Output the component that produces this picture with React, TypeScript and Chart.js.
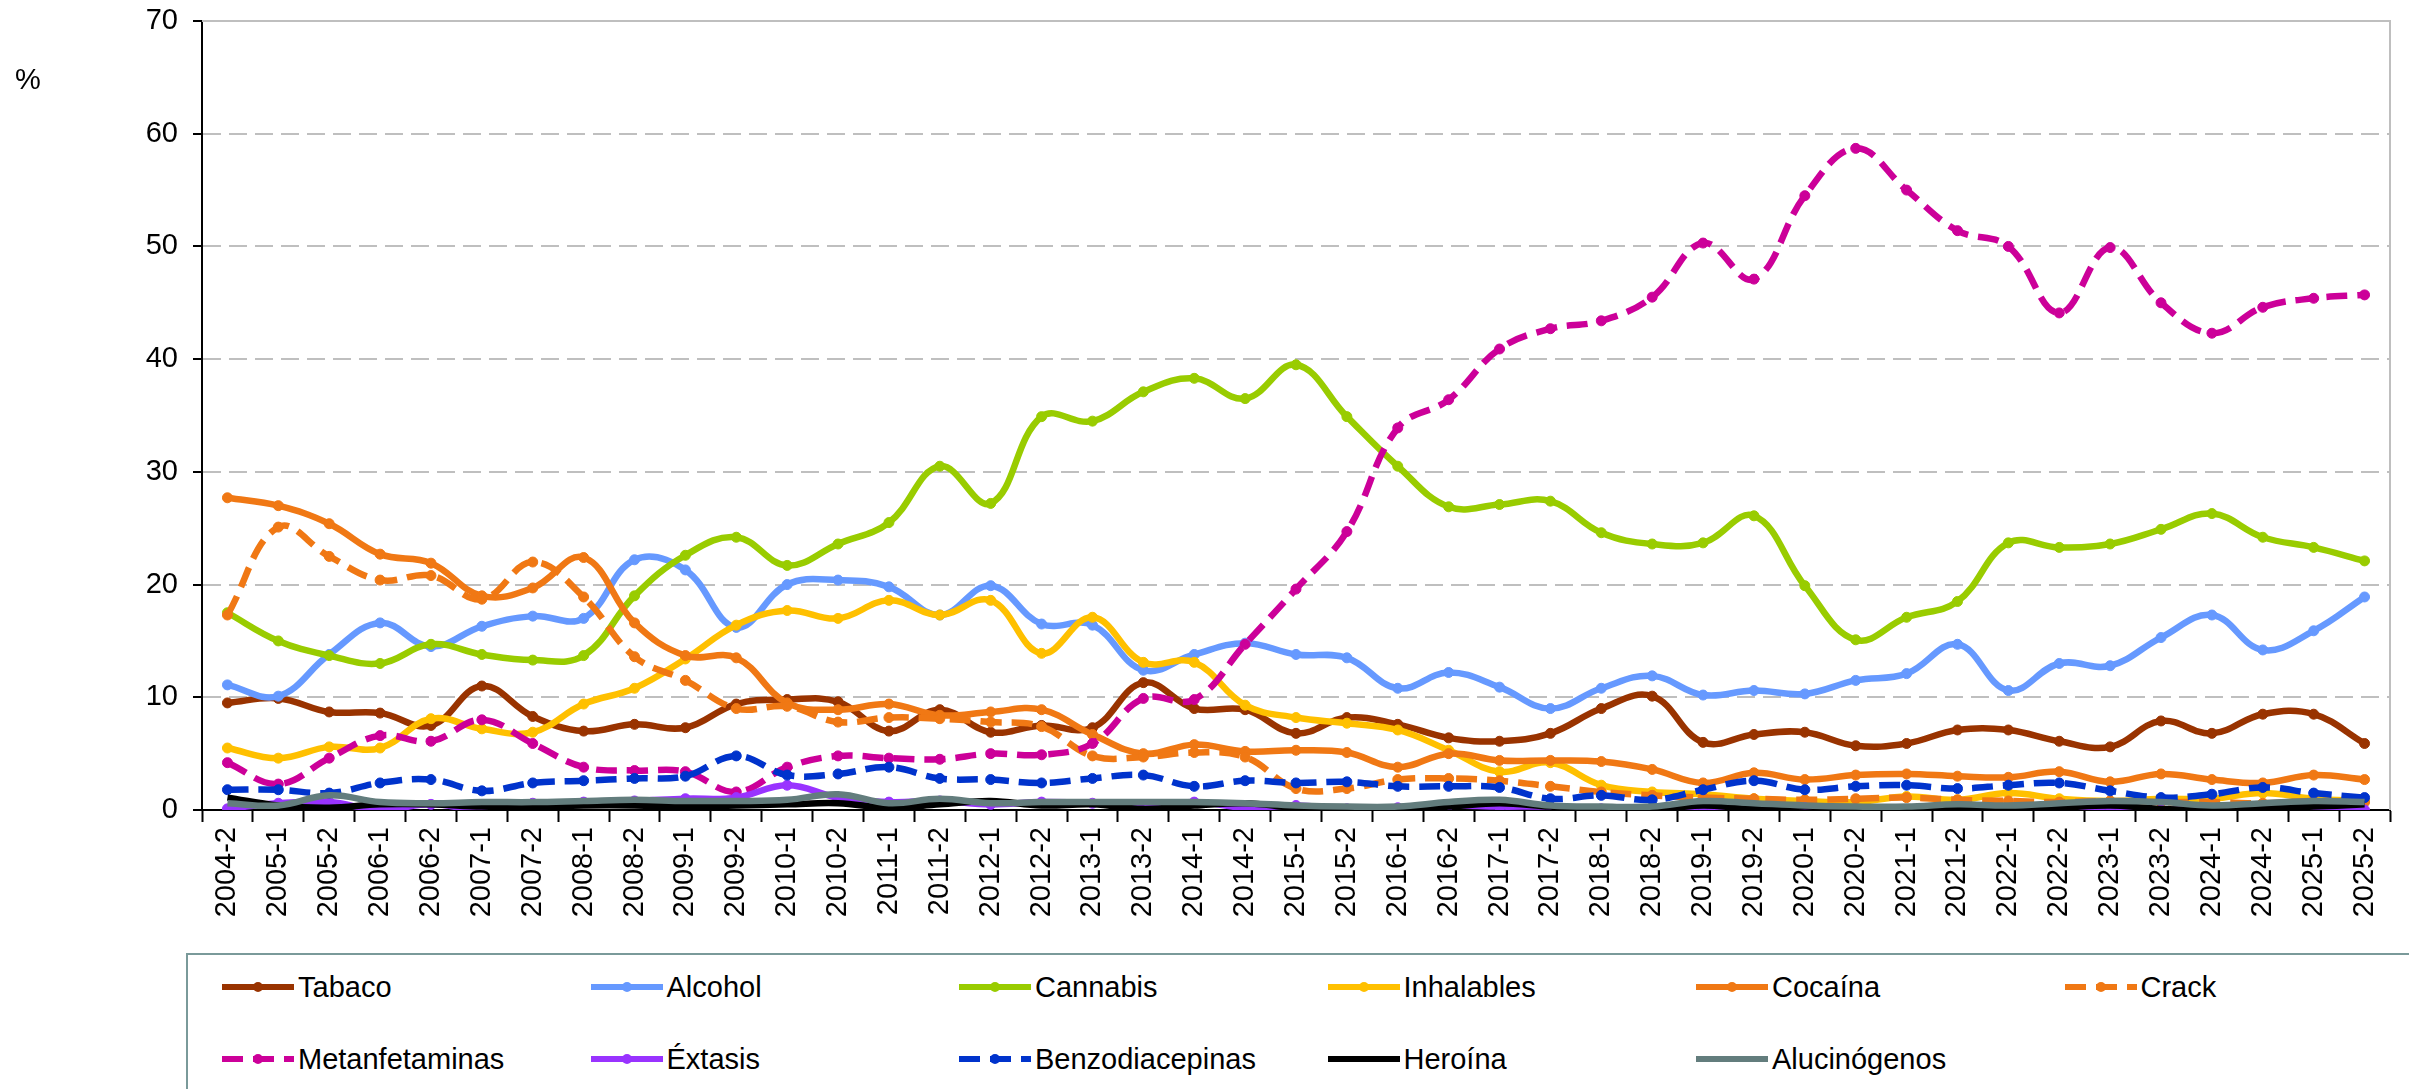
import React, { useEffect, useRef } from "react";
import { Chart, registerables } from "chart.js";

Chart.register(...registerables);

const W = 2409;
const H = 1089;
const CANVAS_H = 950;
const FONT = "'Liberation Sans', Arial, sans-serif";

const categories = [
  "2004-2", "2005-1", "2005-2", "2006-1", "2006-2", "2007-1", "2007-2", "2008-1", "2008-2",
  "2009-1", "2009-2", "2010-1", "2010-2", "2011-1", "2011-2", "2012-1", "2012-2", "2013-1",
  "2013-2", "2014-1", "2014-2", "2015-1", "2015-2", "2016-1", "2016-2", "2017-1", "2017-2",
  "2018-1", "2018-2", "2019-1", "2019-2", "2020-1", "2020-2", "2021-1", "2021-2", "2022-1",
  "2022-2", "2023-1", "2023-2", "2024-1", "2024-2", "2025-1", "2025-2",
];

const yMin = 0;
const yMax = 70;
const yStep = 10;

const tabaco = [9.5, 9.9, 8.7, 8.6, 7.5, 11.0, 8.3, 7.0, 7.6, 7.3, 9.4, 9.8, 9.6, 7.0, 8.9, 6.9, 7.5, 7.3, 11.3, 9.0, 8.9, 6.8, 8.2, 7.6, 6.4, 6.1, 6.8, 9.0, 10.1, 6.0, 6.7, 6.9, 5.7, 5.9, 7.1, 7.1, 6.1, 5.6, 7.9, 6.8, 8.5, 8.5, 5.9];
const alcohol = [11.1, 10.1, 13.8, 16.6, 14.5, 16.3, 17.2, 17.0, 22.2, 21.3, 16.2, 20.0, 20.4, 19.8, 17.3, 19.9, 16.5, 16.4, 12.4, 13.8, 14.8, 13.8, 13.5, 10.8, 12.2, 10.9, 9.0, 10.8, 11.9, 10.2, 10.6, 10.3, 11.5, 12.1, 14.7, 10.6, 13.0, 12.8, 15.3, 17.3, 14.2, 15.9, 18.9];
const cannabis = [17.5, 15.0, 13.7, 13.0, 14.7, 13.8, 13.3, 13.7, 19.0, 22.6, 24.2, 21.7, 23.6, 25.5, 30.5, 27.2, 34.9, 34.5, 37.1, 38.3, 36.5, 39.5, 34.9, 30.5, 26.9, 27.1, 27.4, 24.6, 23.6, 23.7, 26.1, 19.9, 15.1, 17.1, 18.5, 23.7, 23.3, 23.6, 24.9, 26.3, 24.2, 23.3, 22.1];
const inhalables = [5.5, 4.6, 5.6, 5.5, 8.1, 7.2, 6.9, 9.4, 10.8, 13.4, 16.4, 17.7, 17.0, 18.6, 17.3, 18.6, 13.9, 17.1, 13.1, 13.1, 9.3, 8.2, 7.7, 7.1, 5.3, 3.4, 4.2, 2.2, 1.6, 1.4, 1.0, 0.8, 0.7, 1.2, 0.9, 1.5, 1.0, 0.8, 1.0, 1.0, 1.5, 1.0, 0.8];
const cocaina = [27.7, 27.0, 25.4, 22.7, 21.9, 19.0, 19.7, 22.4, 16.6, 13.7, 13.5, 9.5, 8.9, 9.4, 8.4, 8.7, 8.9, 6.7, 5.0, 5.8, 5.2, 5.3, 5.1, 3.8, 5.0, 4.4, 4.4, 4.3, 3.6, 2.4, 3.3, 2.7, 3.1, 3.2, 3.0, 2.9, 3.4, 2.5, 3.2, 2.7, 2.4, 3.1, 2.7];
const crack = [17.3, 25.1, 22.5, 20.4, 20.8, 18.7, 22.0, 18.9, 13.6, 11.5, 9.0, 9.2, 7.8, 8.2, 8.1, 7.8, 7.4, 4.8, 4.7, 5.1, 4.7, 1.9, 1.9, 2.7, 2.8, 2.6, 2.1, 1.6, 1.3, 1.1, 1.0, 0.9, 1.0, 1.1, 0.9, 0.8, 0.7, 0.8, 0.7, 0.7, 0.6, 0.8, 0.7];
const metanfetaminas = [4.2, 2.3, 4.6, 6.6, 6.1, 8.0, 5.9, 3.8, 3.5, 3.4, 1.6, 3.8, 4.8, 4.6, 4.5, 5.0, 4.9, 5.9, 9.9, 9.8, 14.7, 19.6, 24.7, 33.9, 36.4, 40.9, 42.7, 43.4, 45.5, 50.3, 47.1, 54.5, 58.7, 55.0, 51.4, 50.0, 44.1, 49.9, 45.0, 42.3, 44.6, 45.4, 45.7];
const extasis = [0.1, 0.6, 0.7, 0.0, 0.5, 0.0, 0.6, 0.7, 0.8, 1.0, 1.1, 2.2, 1.1, 0.7, 0.8, 0.5, 0.7, 0.6, 0.3, 0.7, 0.2, 0.4, 0.1, 0.2, 0.4, 0.3, 0.3, 0.1, 0.0, 0.3, 0.0, 0.2, 0.0, 0.0, 0.2, 0.0, 0.0, 0.3, 0.0, 0.1, 0.0, 0.2, 0.0];
const benzodiacepinas = [1.8, 1.8, 1.5, 2.4, 2.7, 1.7, 2.4, 2.6, 2.8, 3.0, 4.8, 3.1, 3.2, 3.8, 2.8, 2.7, 2.4, 2.8, 3.1, 2.1, 2.6, 2.4, 2.5, 2.1, 2.1, 2.0, 1.0, 1.3, 0.9, 1.8, 2.6, 1.8, 2.1, 2.2, 1.9, 2.2, 2.4, 1.7, 1.1, 1.4, 2.0, 1.5, 1.1];
const heroina = [1.1, 0.4, 0.2, 0.5, 0.5, 0.3, 0.3, 0.4, 0.4, 0.3, 0.4, 0.5, 0.6, 0.2, 0.5, 0.8, 0.4, 0.5, 0.1, 0.4, 0.6, 0.2, 0.1, 0.1, 0.3, 0.6, 0.3, 0.1, 0.0, 0.4, 0.1, 0.3, 0.1, 0.0, 0.0, 0.1, 0.2, 0.4, 0.1, 0.0, 0.2, 0.3, 0.5];
const alucinogenos = [0.6, 0.4, 1.3, 0.7, 0.6, 0.7, 0.7, 0.8, 0.9, 0.8, 0.8, 0.9, 1.4, 0.6, 1.0, 0.6, 0.7, 0.7, 0.7, 0.7, 0.6, 0.4, 0.3, 0.3, 0.7, 0.9, 0.4, 0.3, 0.3, 0.8, 0.6, 0.4, 0.3, 0.3, 0.5, 0.4, 0.6, 0.8, 0.7, 0.4, 0.6, 0.8, 0.7];

type SeriesDef = { label: string; data: number[]; color: string; dash: number[]; marker: boolean };

const DASH = [21, 10];

const series: SeriesDef[] = [
  { label: "Tabaco", data: tabaco, color: "#993300", dash: [], marker: true },
  { label: "Alcohol", data: alcohol, color: "#6699FF", dash: [], marker: true },
  { label: "Cannabis", data: cannabis, color: "#99CC00", dash: [], marker: true },
  { label: "Inhalables", data: inhalables, color: "#FFC000", dash: [], marker: true },
  { label: "Cocaína", data: cocaina, color: "#F07814", dash: [], marker: true },
  { label: "Crack", data: crack, color: "#F07814", dash: DASH, marker: true },
  { label: "Metanfetaminas", data: metanfetaminas, color: "#CC0099", dash: DASH, marker: true },
  { label: "Éxtasis", data: extasis, color: "#9933FF", dash: [], marker: true },
  { label: "Benzodiacepinas", data: benzodiacepinas, color: "#0033CC", dash: DASH, marker: true },
  { label: "Heroína", data: heroina, color: "#000000", dash: [], marker: false },
  { label: "Alucinógenos", data: alucinogenos, color: "#637D7D", dash: [], marker: false },
];

const plotFrame = {
  id: "plotFrame",
  beforeDatasetsDraw(chart: any) {
    const { ctx, chartArea: a } = chart;
    ctx.save();
    ctx.strokeStyle = "#BFBFBF";
    ctx.lineWidth = 2;
    ctx.setLineDash([]);
    ctx.beginPath();
    ctx.moveTo(a.left, a.top);
    ctx.lineTo(a.right, a.top);
    ctx.lineTo(a.right, a.bottom);
    ctx.stroke();
    ctx.restore();
  },
};

const LEG_COL0 = 222;
const LEG_COLW = 368.5;
const LEG_ROWS = [987, 1059];

function LegendSample({ s }: { s: SeriesDef }) {
  return (
    <svg width={72} height={16} style={{ display: "block", flex: "0 0 auto" }}>
      <line
        x1={0}
        y1={8}
        x2={72}
        y2={8}
        stroke={s.color}
        strokeWidth={6}
        strokeDasharray={s.dash.length ? s.dash.join(" ") : undefined}
      />
      {s.marker ? <circle cx={36} cy={8} r={5} fill={s.color} /> : null}
    </svg>
  );
}

export default function App() {
  const ref = useRef<HTMLCanvasElement | null>(null);

  useEffect(() => {
    if (!ref.current) return;
    const n = series.length;
    const chart = new Chart(ref.current, {
      type: "line",
      data: {
        labels: categories,
        datasets: series.map((s, i) => ({
          label: s.label,
          data: s.data,
          borderColor: s.color,
          backgroundColor: s.color,
          borderWidth: 6.5,
          borderDash: s.dash,
          borderCapStyle: "butt",
          borderJoinStyle: "round",
          tension: 0.4,
          fill: false,
          pointRadius: s.marker ? 5 : 0,
          pointBorderWidth: 1,
          pointBackgroundColor: s.color,
          pointBorderColor: s.color,
          pointHoverRadius: 0,
          order: n - i,
        })),
      },
      options: {
        animation: false,
        responsive: false,
        maintainAspectRatio: false,
        events: [],
        layout: { padding: { top: 21, right: 19, left: 0, bottom: 0 } },
        plugins: {
          legend: { display: false },
          tooltip: { enabled: false },
          title: { display: false },
        },
        scales: {
          x: {
            type: "category",
            offset: true,
            grid: {
              display: true,
              drawOnChartArea: false,
              drawTicks: true,
              tickLength: 12,
              tickColor: "#000",
              tickWidth: 2,
              offset: true,
            },
            border: { display: true, color: "#000", width: 2 },
            ticks: {
              color: "#000",
              font: { size: 29, family: FONT },
              maxRotation: 90,
              minRotation: 90,
              padding: 5,
              autoSkip: false,
            },
            afterFit: (s: any) => {
              s.height = CANVAS_H - 810;
              s.paddingRight = 0;
              s.paddingLeft = 0;
            },
          },
          y: {
            min: yMin,
            max: yMax,
            ticks: {
              stepSize: yStep,
              color: "#000",
              font: { size: 29, family: FONT },
              padding: 15,
            },
            grid: {
              color: "#BFBFBF",
              lineWidth: 2,
              tickColor: "#000",
              tickLength: 9,
              tickWidth: 2,
            },
            border: { display: true, color: "#000", width: 2, dash: [18, 8] },
            afterFit: (s: any) => {
              s.width = 202;
              s.paddingTop = 0;
              s.paddingBottom = 0;
            },
          },
        },
      } as any,
      plugins: [plotFrame],
    });
    return () => chart.destroy();
  }, []);

  return (
    <div
      style={{
        position: "fixed",
        left: 0,
        top: 0,
        width: W,
        height: H,
        background: "#fff",
        overflow: "hidden",
        fontFamily: FONT,
        color: "#000",
      }}
    >
      <canvas
        ref={ref}
        width={W}
        height={CANVAS_H}
        style={{ position: "absolute", left: 0, top: 0, width: W, height: CANVAS_H }}
      />
      <div style={{ position: "absolute", left: 15, top: 63, fontSize: 29, lineHeight: "33px" }}>%</div>
      <div
        style={{
          position: "absolute",
          left: 186,
          top: 953,
          width: W - 186 + 20,
          height: 250,
          border: "2px solid #7A9A9A",
          boxSizing: "border-box",
        }}
      />
      {series.map((s, i) => {
        const row = i < 6 ? 0 : 1;
        const col = i < 6 ? i : i - 6;
        return (
          <div
            key={s.label}
            style={{
              position: "absolute",
              left: LEG_COL0 + col * LEG_COLW,
              top: LEG_ROWS[row] - 17,
              height: 34,
              display: "flex",
              alignItems: "center",
              whiteSpace: "nowrap",
              fontSize: 29,
              lineHeight: "34px",
            }}
          >
            <LegendSample s={s} />
            <span style={{ marginLeft: 4 }}>{s.label}</span>
          </div>
        );
      })}
    </div>
  );
}
